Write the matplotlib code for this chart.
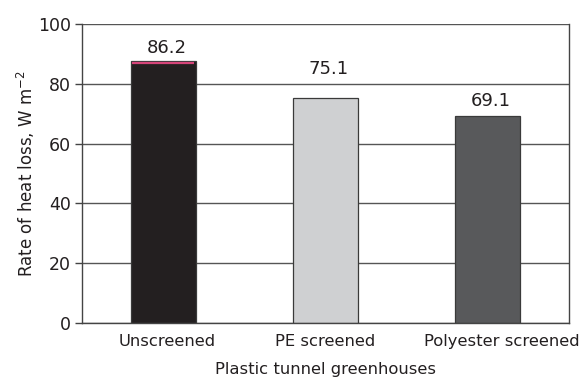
import matplotlib.pyplot as plt
import matplotlib.transforms as mtransforms
import numpy as np

# data
categories = ["Unscreened", "PE screened", "Polyester screened"]
heat_loss = [86.2, 75.1, 69.1]
bar_tops = [87.7, 75.1, 69.1]      # drawn bar heights (first bar sits a bit above its label value)
label_y = [90.4, 83.3, 72.6]       # baselines of the value labels
pink_level = 87.0                  # pink marker line inside the first bar
bar_colors = ["#231f20", "#cfd0d2", "#58595b"]
y_ticks = [0, 20, 40, 60, 80, 100]

fig = plt.figure(figsize=(5.87, 3.79), dpi=100)
ax = fig.add_axes([0.1397, 0.1478, 0.8296, 0.7889])

x = np.arange(len(categories))
ax.set_axisbelow(True)
ax.yaxis.grid(True, color="#555555", linewidth=1.0)
ax.bar(x, bar_tops, width=0.4, color=bar_colors, edgecolor="#3a3a3a", linewidth=0.9, zorder=2)
ax.hlines(pink_level, x[0] - 0.19, x[0] + 0.19, color="#d6457a", linewidth=1.6, zorder=3)

for xi, ly, val in zip(x, label_y, heat_loss):
    ax.text(xi + 0.02, ly, f"{val}", ha="center", va="baseline", fontsize=13,
            color="#231f20")

ax.set_xlim(-0.5, 2.5)
ax.set_ylim(0, 100)
ax.set_yticks(y_ticks)
ax.set_yticklabels([str(t) for t in y_ticks], fontsize=12.5, color="#231f20")
ax.set_xticks(x)
ax.set_xticklabels(categories, fontsize=11.8, color="#231f20")
ax.tick_params(axis="x", length=0, pad=8)
ax.tick_params(axis="y", length=5, width=1, color="#444444", pad=3)

# the category labels in the source sit slightly right of the bar centres
shifts = [3, 0, 10]
for lab, dx in zip(ax.get_xticklabels(), shifts):
    lab.set_transform(lab.get_transform() + mtransforms.ScaledTranslation(dx / 72, 0, fig.dpi_scale_trans))

for side in ["left", "right", "bottom"]:
    ax.spines[side].set_color("#444444")
    ax.spines[side].set_linewidth(1.0)
ax.spines["top"].set_visible(False)

ax.set_xlabel("Plastic tunnel greenhouses", fontsize=11.8, color="#231f20", labelpad=9)
ax.set_ylabel("Rate of heat loss, W m$^{-2}$", fontsize=12, color="#231f20", labelpad=1)

fig.savefig("out.png", dpi=100)
